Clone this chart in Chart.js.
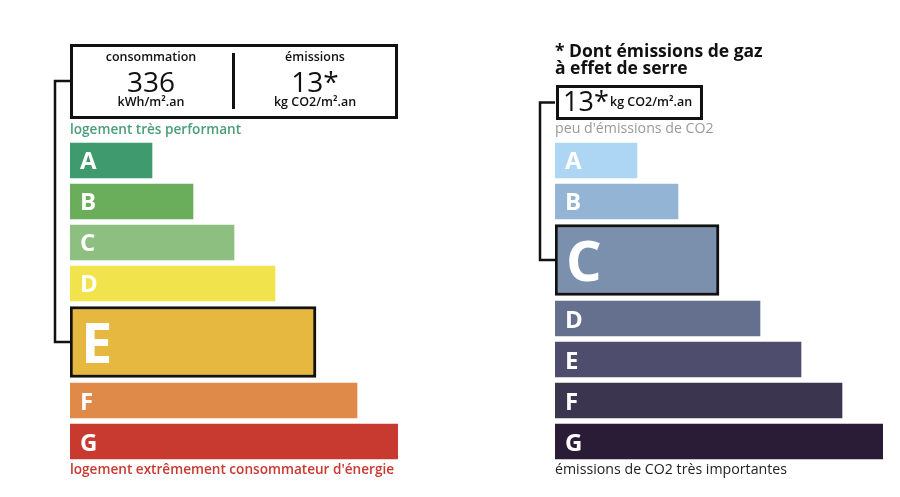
<!DOCTYPE html>
<html>
<head>
<meta charset="utf-8">
<script src="https://cdn.jsdelivr.net/npm/chart.js@4.4.1/dist/chart.umd.min.js"></script>
<style>
  html, body { margin:0; padding:0; background:#fff; }
  body { font-family: "Open Sans", "Noto Sans", sans-serif; color:#111; }
  #wrap { position:relative; width:900px; height:497px; overflow:hidden; }
  canvas { position:absolute; top:0; }
  .t { position:absolute; line-height:1; white-space:nowrap; }
  .box { position:absolute; border:3px solid #111; box-sizing:border-box; }
  .c { transform:translateX(-50%); text-align:center; }
</style>
</head>
<body>
<div id="wrap">
  <canvas id="energy" width="450" height="497" style="left:0"></canvas>
  <canvas id="co2" width="450" height="497" style="left:450px"></canvas>

  <!-- left header box -->
  <div class="box" style="left:70px;top:44px;width:328px;height:75px;"></div>
  <div style="position:absolute;left:232px;top:53px;width:3px;height:56px;background:#111;"></div>
  <div class="t c" id="consLbl" style="left:151px;top:51px;font-size:12.5px;font-weight:600;">consommation</div>
  <div class="t c" id="consVal" style="left:151px;top:67px;font-size:28px;font-weight:400;"></div>
  <div class="t c" id="consUnit" style="left:151px;top:96px;font-size:12.5px;font-weight:600;"></div>
  <div class="t c" id="emiLbl" style="left:315px;top:51px;font-size:12.5px;font-weight:600;">émissions</div>
  <div class="t c" id="emiVal" style="left:315px;top:67px;font-size:28px;font-weight:400;"></div>
  <div class="t c" id="emiUnit" style="left:315px;top:96px;font-size:12.5px;font-weight:600;"></div>

  <div class="t" id="eTop" style="left:70px;top:122px;font-size:13.6px;font-weight:600;color:#4a9e78;"></div>
  <div class="t" id="eBot" style="left:70px;top:462px;font-size:13.6px;font-weight:600;color:#c8392f;"></div>

  <!-- right header -->
  <div class="t" style="left:555px;top:42px;font-size:17.5px;font-weight:700;line-height:17px;">* Dont émissions de gaz<br>à effet de serre</div>
  <div class="box" style="left:556px;top:85px;width:147px;height:35px;"></div>
  <div class="t" id="co2Val" style="left:563px;top:87px;font-size:27px;font-weight:400;"></div>
  <div class="t" id="co2Unit" style="left:610px;top:96px;font-size:12.5px;font-weight:600;"></div>
  <div class="t" id="cTop" style="left:555px;top:121px;font-size:14.2px;font-weight:400;color:#9a9a9a;"></div>
  <div class="t" id="cBot" style="left:555px;top:462px;font-size:14.2px;font-weight:400;color:#222;"></div>
</div>

<script>
// ---------- data ----------
const grades = ['A', 'B', 'C', 'D', 'E', 'F', 'G'];
const energyLengths = [2, 3, 4, 5, 6, 7, 8];
const co2Lengths = [2, 3, 4, 5, 6, 7, 8];
const energyColors = ['#3f9a6e', '#6aae5c', '#8cbf80', '#f0e34c', '#e7b83f', '#df8a48', '#c8392f'];
const co2Colors = ['#acd6f4', '#93b4d4', '#7b90ad', '#65708f', '#4f4d6d', '#3c3550', '#2a1b36'];
const energyClass = 'E';
const co2Class = 'C';
const consumption = '336';
const consumptionUnit = 'kWh/m².an';
const emissions = '13*';
const emissionsUnit = 'kg CO2/m².an';
const energyTopLabel = 'logement très performant';
const energyBottomLabel = "logement extrêmement consommateur d'énergie";
const co2TopLabel = "peu d'émissions de CO2";
const co2BottomLabel = 'émissions de CO2 très importantes';

document.getElementById('consVal').textContent = consumption;
document.getElementById('consUnit').textContent = consumptionUnit;
document.getElementById('emiVal').textContent = emissions;
document.getElementById('emiUnit').textContent = emissionsUnit;
document.getElementById('co2Val').textContent = emissions;
document.getElementById('co2Unit').textContent = emissionsUnit;
document.getElementById('eTop').textContent = energyTopLabel;
document.getElementById('eBot').textContent = energyBottomLabel;
document.getElementById('cTop').textContent = co2TopLabel;
document.getElementById('cBot').textContent = co2BottomLabel;

// ---------- chart ----------
const SLOT_EXT = 1.854;        // share of rows taken by the highlighted class
const NORMAL_THICK = 35, BIG_THICK = 71;

function rowPos(i, hi) {
  if (i < hi) return i;
  if (i === hi) return hi - 0.5 + SLOT_EXT / 2;
  return i - 1 + SLOT_EXT;
}

const letterPlugin = {
  id: 'letters',
  afterDatasetsDraw(chart, args, opts) {
    const ctx = chart.ctx;
    ctx.save();
    ctx.fillStyle = '#fff';
    ctx.textAlign = 'left';
    ctx.textBaseline = 'alphabetic';
    chart.data.datasets.forEach((ds, di) => {
      const meta = chart.getDatasetMeta(di);
      meta.data.forEach((el, j) => {
        const g = ds.data[j].g;
        if (ds.big) {
          ctx.font = '700 56px "Open Sans"';
          ctx.fillText(g, el.base + 11, el.y + 21);
        } else {
          ctx.font = '700 24px "Open Sans"';
          ctx.fillText(g, el.base + 10, el.y + 9);
        }
      });
    });
    // connector from header box to the highlighted bar
    const bigMeta = chart.getDatasetMeta(1);
    const el = bigMeta.data[0];
    if (el) {
      const x0 = el.base;
      const lx = x0 - opts.indent;
      ctx.strokeStyle = '#111';
      ctx.lineWidth = 2.5;
      ctx.beginPath();
      ctx.moveTo(x0, opts.fromY);
      ctx.lineTo(lx, opts.fromY);
      ctx.lineTo(lx, el.y);
      ctx.lineTo(x0, el.y);
      ctx.stroke();
    }
    ctx.restore();
  }
};

function makeChart(id, lengths, colors, cls, pad, fromY) {
  const hi = grades.indexOf(cls);
  const normal = [], normalColors = [];
  grades.forEach((g, i) => {
    if (i !== hi) {
      normal.push({ x: lengths[i], y: rowPos(i, hi), g });
      normalColors.push(colors[i]);
    }
  });
  const big = [{ x: lengths[hi], y: rowPos(hi, hi), g: grades[hi] }];
  const yMax = rowPos(grades.length - 1, hi) + 0.5;
  new Chart(document.getElementById(id), {
    type: 'bar',
    data: {
      datasets: [
        { data: normal, backgroundColor: normalColors, barThickness: NORMAL_THICK, grouped: false, borderWidth: 0 },
        { data: big, big: true, backgroundColor: colors[hi], barThickness: BIG_THICK, grouped: false,
          borderWidth: 3, borderColor: '#111', borderSkipped: false }
      ]
    },
    options: {
      indexAxis: 'y',
      responsive: false,
      animation: false,
      layout: { padding: pad },
      scales: {
        x: { type: 'linear', min: 0, max: 8, display: false, offset: false },
        y: { type: 'linear', min: -0.5, max: yMax, reverse: true, display: false, offset: false }
      },
      plugins: {
        legend: { display: false },
        tooltip: { enabled: false },
        letters: { indent: 15, fromY: fromY }
      }
    },
    plugins: [letterPlugin]
  });
}

function draw() {
  makeChart('energy', energyLengths, energyColors, energyClass, { left: 70, right: 52, top: 140, bottom: 35 }, 81);
  makeChart('co2', co2Lengths, co2Colors, co2Class, { left: 105, right: 17, top: 140, bottom: 35 }, 102.5);
}
if (document.fonts && document.fonts.load) {
  Promise.all([document.fonts.load('700 24px "Open Sans"'), document.fonts.load('400 13px "Open Sans"')])
    .then(draw, draw);
} else { draw(); }
</script>
</body>
</html>
